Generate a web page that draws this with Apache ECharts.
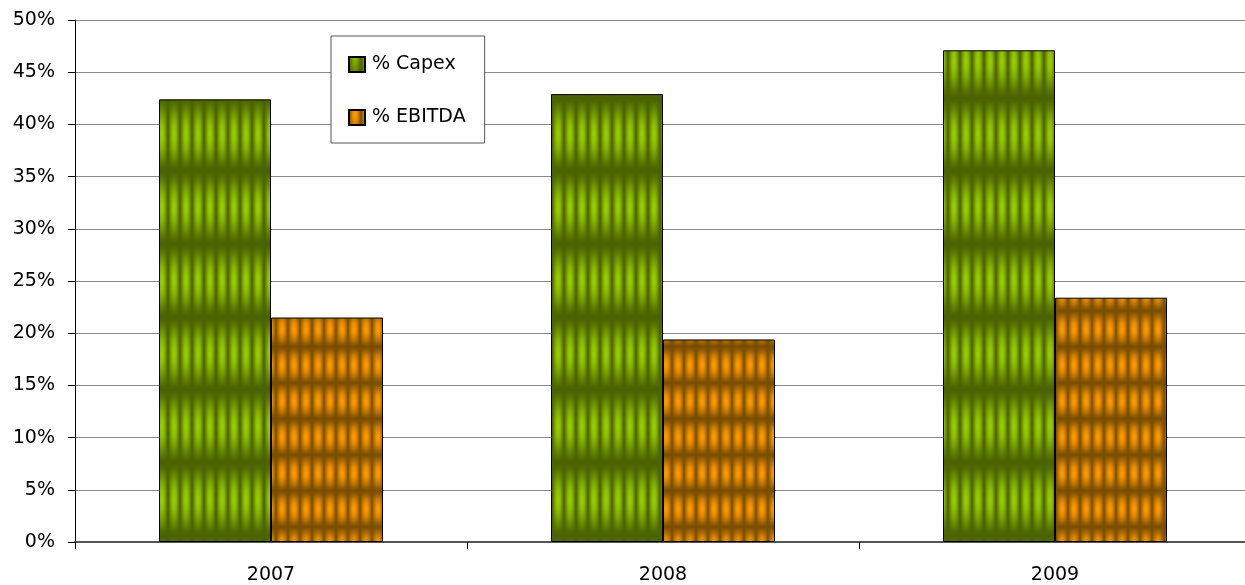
<!DOCTYPE html>
<html><head><meta charset="utf-8">
<script src="https://cdn.jsdelivr.net/npm/echarts@6/dist/echarts.min.js"></script>
<style>html,body{margin:0;padding:0;background:#fff;overflow:hidden;width:1245px;height:585px}#c{width:1251px;height:585px}</style>
</head><body><div id="c"></div>
<script>
const categories = ['2007', '2008', '2009'];
const capex = [42.4, 42.9, 47.1];
const ebitda = [21.5, 19.4, 23.4];
const yTicks = [0, 5, 10, 15, 20, 25, 30, 35, 40, 45, 50];

function makeTile(w, h, light, dark, px, py, yPhase) {
  const c = document.createElement('canvas');
  c.width = w; c.height = h;
  const ctx = c.getContext('2d');
  const img = ctx.createImageData(w, h);
  for (let y = 0; y < h; y++) {
    const b = 0.5 - 0.5 * Math.cos(2 * Math.PI * (y + 0.5 - yPhase) / h);
    for (let x = 0; x < w; x++) {
      const a = 0.5 + 0.5 * Math.cos(2 * Math.PI * ((x + 0.5) - w / 2) / w);
      const t = Math.pow(a, px) * Math.pow(b, py);
      const i = (y * w + x) * 4;
      for (let k = 0; k < 3; k++) img.data[i + k] = Math.round(dark[k] + (light[k] - dark[k]) * t);
      img.data[i + 3] = 255;
    }
  }
  ctx.putImageData(img, 0, 0);
  return c;
}
const greenTile = makeTile(12, 73, [153, 204, 0], [74, 99, 0], 0.6, 0.7, 25);
const orangeTile = makeTile(12, 36, [255, 153, 0], [122, 78, 0], 0.55, 0.6, 23);

const chart = echarts.init(document.getElementById('c'), null, {renderer: 'canvas'});
chart.setOption({
  animation: false,
  backgroundColor: '#fff',
  grid: {left: 75, right: 0, top: 20, bottom: 43, containLabel: false},
  legend: {
    orient: 'vertical', left: 331, top: 36,
    padding: [19, 19, 16, 17], itemGap: 34, itemWidth: 16, itemHeight: 15,
    borderColor: '#555', borderWidth: 1, backgroundColor: '#fff',
    textStyle: {fontFamily: 'DejaVu Sans', fontSize: 19, color: '#000', lineHeight: 16, padding: [0, 0, 0, 2]},
    data: [{name: '% Capex', icon: 'rect'}, {name: '% EBITDA', icon: 'rect'}]
  },
  xAxis: {
    type: 'category', data: categories,
    axisLine: {lineStyle: {color: '#555', width: 2}},
    axisTick: {show: true, length: 7, lineStyle: {color: '#000'}},
    axisLabel: {fontFamily: 'DejaVu Sans', fontSize: 19, color: '#000', margin: 24}
  },
  yAxis: {
    type: 'value', min: 0, max: 50, interval: 5,
    axisLine: {show: true, lineStyle: {color: '#000', width: 1}},
    axisTick: {show: true, length: 7, lineStyle: {color: '#000'}},
    splitLine: {lineStyle: {color: '#888', width: 1}},
    axisLabel: {fontFamily: 'DejaVu Sans', fontSize: 19, color: '#000', margin: 20,
      formatter: v => yTicks.indexOf(v) >= 0 ? v + '%' : ''}
  },
  series: [
    {name: '% Capex', type: 'bar', data: capex, barWidth: 112, barGap: '0%',
     itemStyle: {color: {image: greenTile, repeat: 'repeat'}, borderColor: '#000', borderWidth: 1}},
    {name: '% EBITDA', type: 'bar', data: ebitda, barWidth: 112, barGap: '0%',
     itemStyle: {color: {image: orangeTile, repeat: 'repeat'}, borderColor: '#000', borderWidth: 1}}
  ]
});
</script></body></html>
